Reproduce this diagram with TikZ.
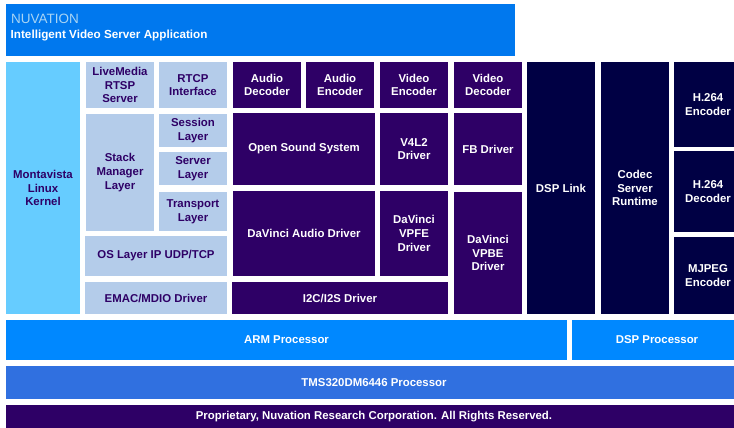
\documentclass[tikz,border=0pt]{standalone}
\usepackage{fontspec}
\setmainfont{Liberation Sans}
\usepackage{xcolor}
\definecolor{banner}{HTML}{0078EE}
\definecolor{cpu}{HTML}{0088FF}
\definecolor{sky}{HTML}{66CCFF}
\definecolor{lite}{HTML}{B4CCEA}
\definecolor{plum}{HTML}{2E0066}
\definecolor{navy}{HTML}{000044}
\definecolor{chip}{HTML}{3070E0}
\definecolor{brand}{HTML}{A8D4F4}

\begin{document}
\begin{tikzpicture}[x = {(1pt,0pt)},
y = {(0pt,-1pt)},
blk/.style 2 args = {anchor=north west, inner sep=0pt, outer sep=0pt,
  minimum width=#1pt, minimum height=#2pt, align=center,
  font=\bfseries\fontsize{11.4}{13.6}\selectfont},
litebox/.style 2 args = {blk={#1}{#2}, fill=lite, text=plum},
darkbox/.style 2 args = {blk={#1}{#2}, fill=plum, text=white},
navybox/.style 2 args = {blk={#1}{#2}, fill=navy, text=white},
cpubox/.style 2 args = {blk={#1}{#2}, fill=cpu, text=white}]
\useasboundingbox (0,0) rectangle (734,428);
\clip (0,0) rectangle (734,428);

\node[blk={509}{52}, fill=banner] (app) at (6,4) {};
\node[anchor=base west, inner sep=0pt, text=brand, font=\fontsize{13.5}{14}\selectfont] (nuv) at (11,24) {NUVATION};
\node[anchor=base west, inner sep=0pt, text=white, font=\bfseries\fontsize{11.7}{13}\selectfont] (title) at (10.5,39) {Intelligent Video Server Application};

\node[blk={74}{252}, fill=sky, text=plum] (mvl) at (6,62) {Montavista\\Linux\\Kernel};

\node[litebox={68}{46}] (live) at (86,62) {LiveMedia\\RTSP\\Server};
\node[litebox={68}{46}] (rtcp) at (159,62) {RTCP\\Interface};
\node[litebox={68}{117}] (stack) at (86,114) {Stack\\Manager\\Layer};
\node[litebox={68}{33}] (sess) at (159,114) {Session\\Layer};
\node[litebox={68}{33}] (srv) at (159,152) {Server\\Layer};
\node[litebox={68}{39}] (trans) at (159,192) {Transport\\Layer};
\node[litebox={142}{40}] (os) at (85,236) {OS Layer IP UDP/TCP};
\node[litebox={142}{32}] (emac) at (85,282) {EMAC/MDIO Driver};

\node[darkbox={68}{46}] (adec) at (233,62) {Audio\\Decoder};
\node[darkbox={68}{46}] (aenc) at (306,62) {Audio\\Encoder};
\node[darkbox={68}{46}] (venc) at (380,62) {Video\\Encoder};
\node[darkbox={68}{46}] (vdec) at (454,62) {Video\\Decoder};
\node[darkbox={142}{72}] (oss) at (233,113) {Open Sound System};
\node[darkbox={68}{72}] (v4l2) at (380,113) {V4L2\\Driver};
\node[darkbox={68}{72}] (fb) at (454,113) {FB Driver};
\node[darkbox={142}{85}] (dva) at (233,191) {DaVinci Audio Driver};
\node[darkbox={68}{85}] (vpfe) at (380,191) {DaVinci\\VPFE\\Driver};
\node[darkbox={68}{122}] (vpbe) at (454,192) {DaVinci\\VPBE\\Driver};
\node[darkbox={216}{32}] (i2c) at (232,282) {I2C/I2S Driver};

\node[navybox={68}{252}] (link) at (527,62) {DSP Link};
\node[navybox={68}{252}] (codec) at (601,62) {Codec\\Server\\Runtime};
\node[navybox={68}{85}] (henc) at (674,62) {H.264\\Encoder};
\node[navybox={68}{81}] (hdec) at (674,151) {H.264\\Decoder};
\node[navybox={68}{77}] (mjpeg) at (674,237) {MJPEG\\Encoder};

\node[cpubox={561}{40}] (arm) at (6,320) {ARM Processor};
\node[cpubox={170}{40}] (dsp) at (572,320) {DSP Processor};
\node[blk={736}{33}, fill=chip, text=white] (tms) at (6,366) {TMS320DM6446 Processor};
\node[blk={736}{23}, fill=plum, text=white, font=\bfseries\fontsize{11.4}{12}\selectfont] (rights) at (6,405) {Proprietary, Nuvation Research Corporation. All Rights Reserved.};
\end{tikzpicture}
\end{document}
